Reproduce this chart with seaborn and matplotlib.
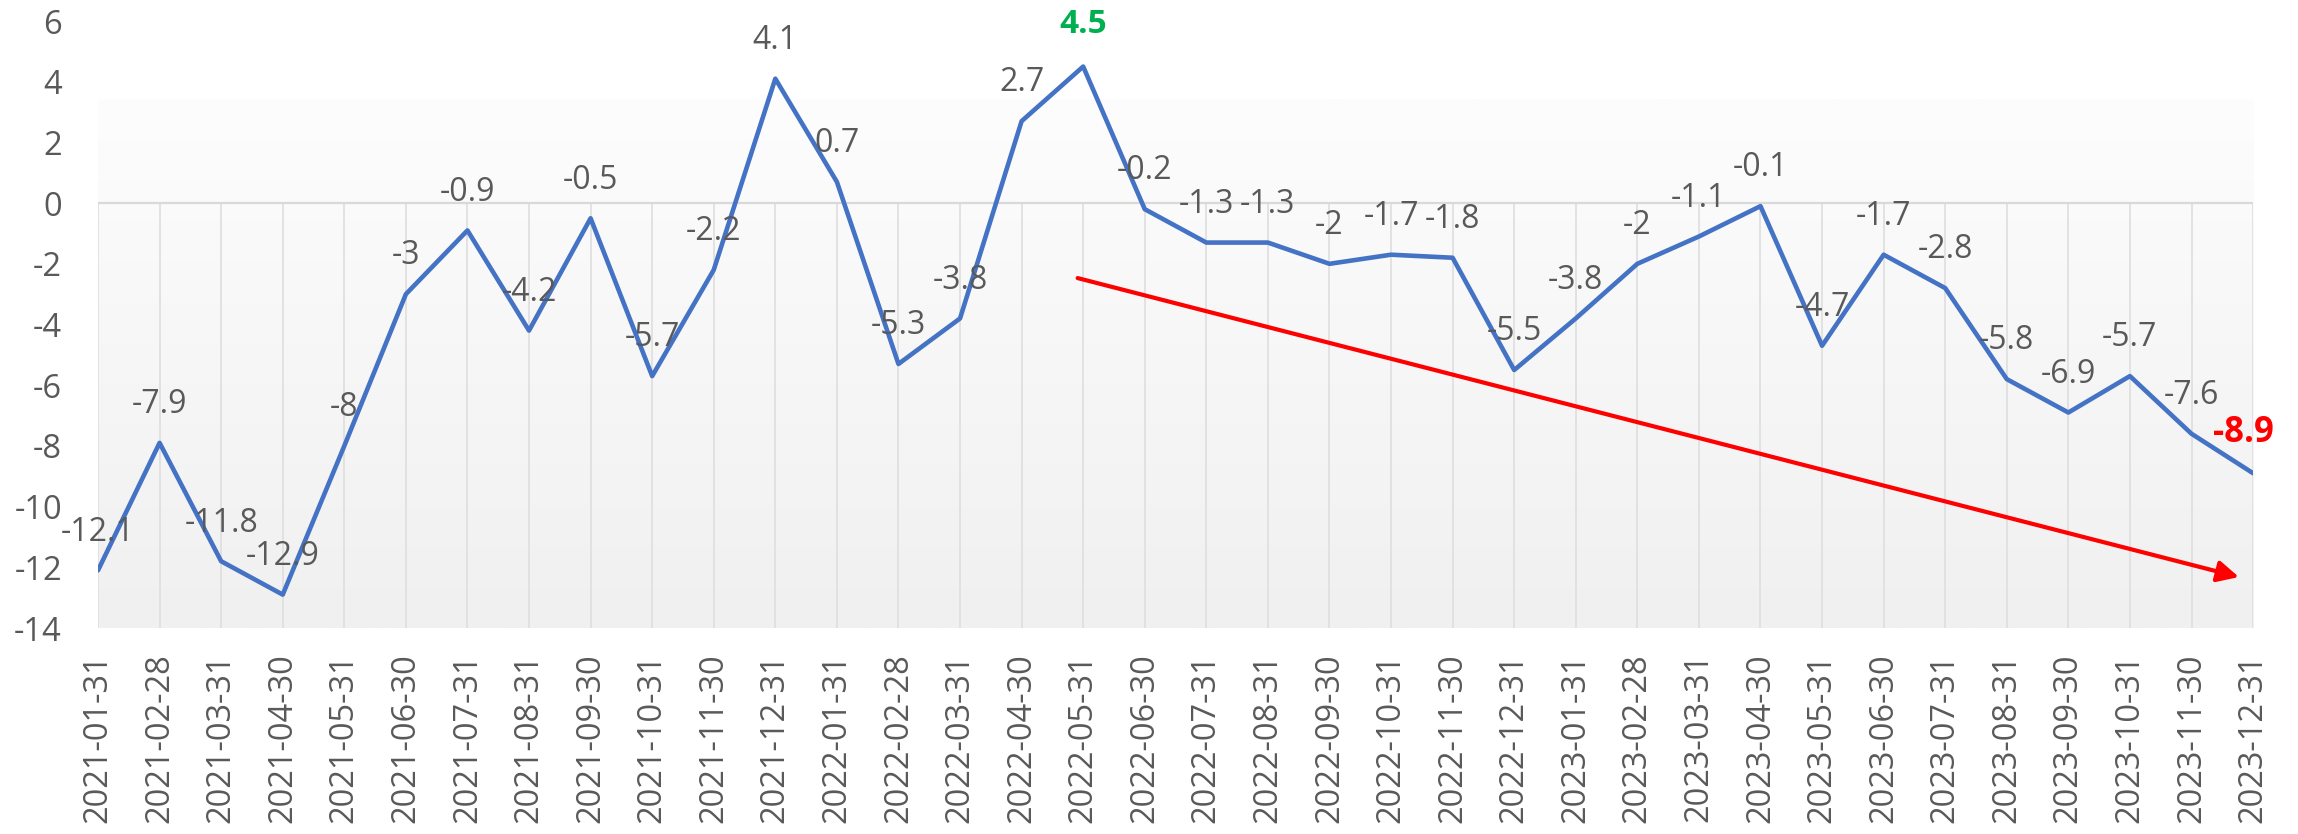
import numpy as np
import seaborn as sns
import matplotlib.pyplot as plt
from matplotlib.colors import LinearSegmentedColormap

# month-end dates shown on the category axis
dates_2021 = ['2021-01-31', '2021-02-28', '2021-03-31', '2021-04-30', '2021-05-31', '2021-06-30',
              '2021-07-31', '2021-08-31', '2021-09-30', '2021-10-31', '2021-11-30', '2021-12-31']
dates_2022 = ['2022-01-31', '2022-02-28', '2022-03-31', '2022-04-30', '2022-05-31', '2022-06-30',
              '2022-07-31', '2022-08-31', '2022-09-30', '2022-10-31', '2022-11-30', '2022-12-31']
dates_2023 = ['2023-01-31', '2023-02-28', '2023-03-31', '2023-04-30', '2023-05-31', '2023-06-30',
              '2023-07-31', '2023-08-31', '2023-09-30', '2023-10-31', '2023-11-30', '2023-12-31']

values_2021 = [-12.1, -7.9, -11.8, -12.9, -8, -3, -0.9, -4.2, -0.5, -5.7, -2.2, 4.1]
values_2022 = [0.7, -5.3, -3.8, 2.7, 4.5, -0.2, -1.3, -1.3, -2, -1.7, -1.8, -5.5]
values_2023 = [-3.8, -2, -1.1, -0.1, -4.7, -1.7, -2.8, -5.8, -6.9, -5.7, -7.6, -8.9]

y_ticks = list(range(-14, 7, 2))

# trend arrow (category index, value)
arrow_start = (15.91, -2.47)
arrow_end = (34.77, -12.32)

dates = dates_2021 + dates_2022 + dates_2023
values = values_2021 + values_2022 + values_2023
idx = np.arange(len(values))

TEXT = '#595959'
GRID = '#d9d9d9'

sns.set_style('white')
plt.rcParams['font.family'] = ['Open Sans', 'DejaVu Sans']

fig = plt.figure(figsize=(22.98, 8.34), dpi=100)
ax = fig.add_axes([0.04265, 0.2470, 0.9378, 0.7278])

# gradient fill of the plot area
grad = np.linspace(0, 1, 256).reshape(-1, 1)
cmap = LinearSegmentedColormap.from_list('bg', ['#fdfdfd', '#f0f0f0'])
ax.imshow(grad, extent=[0, len(values) - 1, -14, 3.4], aspect='auto',
          cmap=cmap, origin='upper', zorder=0)

ax.vlines(idx, -14, 0, colors='#dedede', lw=1.2, zorder=1)
ax.axhline(0, color=GRID, lw=1.6, zorder=1)

sns.lineplot(x=idx, y=values, ax=ax, color='#4472c4', linewidth=3.3, zorder=3)

# data labels
for i, v in enumerate(values):
    if i == 16:
        ax.annotate(f'{v:g}', (i, v), xytext=(0, 30), textcoords='offset points',
                    ha='center', va='center', fontsize=24, color='#00b050', fontweight='bold')
    elif i == len(values) - 1:
        ax.annotate(f'{v:g}', (i, v), xytext=(-7, 29), textcoords='offset points',
                    ha='center', va='center', fontsize=25, color='#ff0000', fontweight='bold')
    else:
        ax.annotate(f'{v:g}', (i, v), xytext=(0, 27.5), textcoords='offset points',
                    ha='center', va='center', fontsize=23, color=TEXT)

ax.annotate('', xy=arrow_end, xytext=arrow_start,
            arrowprops=dict(arrowstyle='-|>', color='#ff0000', lw=3.0,
                            mutation_scale=32, shrinkA=0, shrinkB=0), zorder=4)

ax.set_xlim(0, len(values) - 1)
ax.set_ylim(-14, 6)
ax.set_xticks(idx)
ax.set_xticklabels(dates, rotation=90, fontsize=23.5, color=TEXT)
ax.set_yticks(y_ticks)
ax.set_yticklabels([str(t) for t in y_ticks], fontsize=23.5, color=TEXT)
ax.tick_params(axis='x', length=0, pad=18)
ax.tick_params(axis='y', length=0, pad=26)
ax.set_xlabel('')
ax.set_ylabel('')
for s in ax.spines.values():
    s.set_visible(False)

fig.savefig('out.png', dpi=100)
